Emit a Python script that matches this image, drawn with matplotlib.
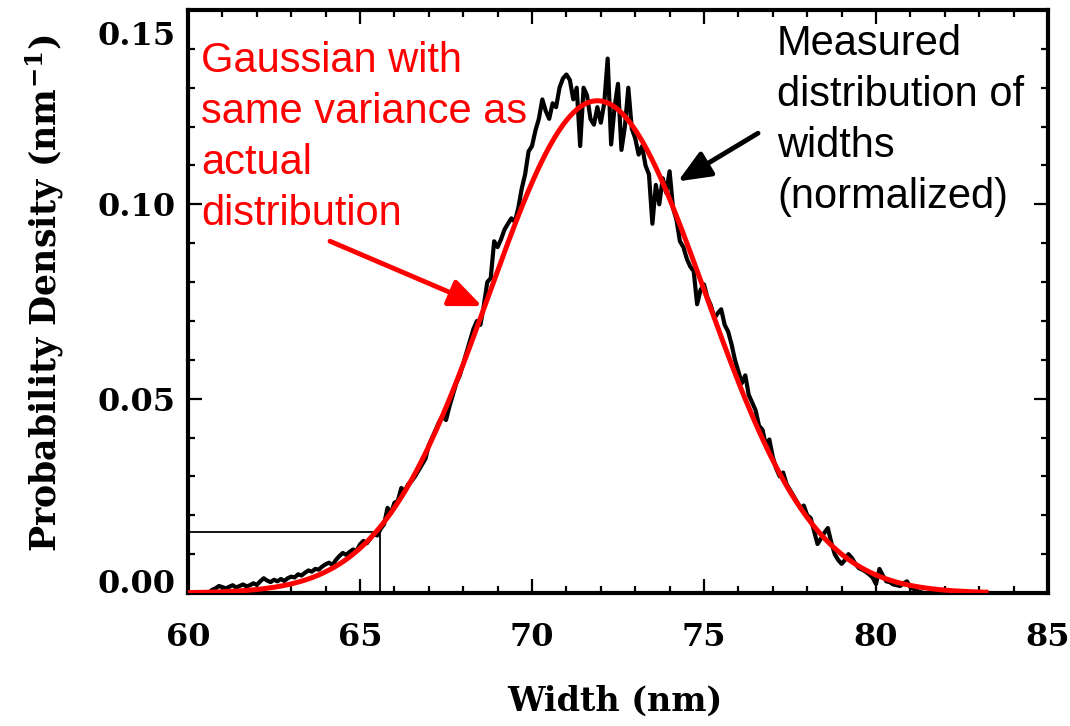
import numpy as np
import matplotlib
matplotlib.use("Agg")
import matplotlib.pyplot as plt
from matplotlib.ticker import MultipleLocator
import matplotlib.transforms as mtransforms

# ---------------- data ----------------
width_start = 60.6
width_step = 0.1
measured_density = [
    0.0000, 0.0008, 0.0012, 0.0018, 0.0015,
    0.0012, 0.0016, 0.0020, 0.0014, 0.0018, 0.0022, 0.0017, 0.0020, 0.0025, 0.0021,
    0.0030, 0.0038, 0.0032, 0.0028, 0.0034, 0.0030, 0.0036, 0.0031, 0.0038, 0.0042,
    0.0040, 0.0048, 0.0045, 0.0052, 0.0058, 0.0055, 0.0062, 0.0060, 0.0068, 0.0074,
    0.0078, 0.0072, 0.0085, 0.0095, 0.0103, 0.0098, 0.0106, 0.0112, 0.0108, 0.0125,
    0.0134, 0.0128, 0.0140, 0.0152, 0.0148, 0.0165, 0.0177, 0.0219, 0.0205, 0.0232,
    0.0237, 0.0270, 0.0262, 0.0280, 0.0288, 0.0300, 0.0315, 0.0330, 0.0345, 0.0380,
    0.0400, 0.0420, 0.0440, 0.0455, 0.0445, 0.0480, 0.0510, 0.0540, 0.0560, 0.0590,
    0.0620, 0.0650, 0.0680, 0.0700, 0.0690, 0.0740, 0.0800, 0.0810, 0.0905, 0.0890,
    0.0910, 0.0935, 0.0950, 0.0964, 0.0955, 0.0990, 0.1040, 0.1077, 0.1136, 0.1150,
    0.1190, 0.1220, 0.1270, 0.1240, 0.1220, 0.1260, 0.1250, 0.1300, 0.1324, 0.1334,
    0.1320, 0.1270, 0.1300, 0.1150, 0.1300, 0.1280, 0.1220, 0.1205, 0.1250, 0.1210,
    0.1260, 0.1375, 0.1154, 0.1250, 0.1310, 0.1140, 0.1200, 0.1300, 0.1195, 0.1170,
    0.1128, 0.1150, 0.1100, 0.1077, 0.0950, 0.1050, 0.1000, 0.1067, 0.1030, 0.1085,
    0.0990, 0.0960, 0.0905, 0.0890, 0.0860, 0.0840, 0.0828, 0.0743, 0.0780, 0.0794,
    0.0760, 0.0740, 0.0707, 0.0720, 0.0730, 0.0690, 0.0673, 0.0640, 0.0600, 0.0570,
    0.0540, 0.0560, 0.0510, 0.0490, 0.0470, 0.0430, 0.0420, 0.0380, 0.0395, 0.0350,
    0.0320, 0.0300, 0.0310, 0.0280, 0.0265, 0.0250, 0.0235, 0.0219, 0.0225, 0.0200,
    0.0193, 0.0160, 0.0126, 0.0140, 0.0155, 0.0167, 0.0130, 0.0100, 0.0085, 0.0075,
    0.0085, 0.0100, 0.0090, 0.0075, 0.0064, 0.0060, 0.0055, 0.0048, 0.0040, 0.0023,
    0.0062, 0.0045, 0.0030, 0.0028, 0.0022, 0.0020, 0.0018, 0.0025, 0.0030, 0.0015,
    0.0010, 0.0005, 0.0002, 0.0000,
]

gauss_mean = 71.9
gauss_sigma = 3.15
gauss_x_min = 60.0
gauss_x_max = 83.2

guide_x = 65.58
guide_y = 0.0158

x_ticks = [60, 65, 70, 75, 80, 85]
y_ticks = [0.00, 0.05, 0.10, 0.15]
y_tick_labels = ["0.00", "0.05", "0.10", "0.15"]

red_lines = ["Gaussian with", "same variance as", "actual", "distribution"]
black_lines = ["Measured", "distribution of", "widths", "(normalized)"]

# ---------------- figure ----------------
plt.rcParams["mathtext.fontset"] = "dejavuserif"
fig = plt.figure(figsize=(10.7, 7.26), dpi=100)
ax = fig.add_axes([188 / 1070, 1 - 593 / 726, 860 / 1070, 583 / 726])

w = width_start + width_step * np.arange(len(measured_density))
ax.plot(w, measured_density, color="black", lw=3.0, solid_joinstyle="round", zorder=2)

gx = np.linspace(gauss_x_min, gauss_x_max, 600)
gy = np.exp(-0.5 * ((gx - gauss_mean) / gauss_sigma) ** 2) / (gauss_sigma * np.sqrt(2 * np.pi))
ax.plot(gx, gy, color="#ff0000", lw=3.6, zorder=3)

ax.plot([60, guide_x, guide_x], [guide_y, guide_y, 0], color="black", lw=1.3, zorder=1)

ax.set_xlim(60, 85)
ax.set_ylim(0, 0.15)
ax.set_xticks(x_ticks)
ax.set_yticks(y_ticks)
ax.set_yticklabels(y_tick_labels)
ax.xaxis.set_minor_locator(MultipleLocator(1))
ax.yaxis.set_minor_locator(MultipleLocator(0.01))

ax.tick_params(which="both", direction="in", top=True, right=True, width=1.6)
ax.tick_params(which="major", length=10)
ax.tick_params(which="minor", length=5)
ax.tick_params(axis="x", which="major", pad=21)
ax.tick_params(axis="y", which="major", pad=9)
for lab in ax.get_xticklabels() + ax.get_yticklabels():
    lab.set_fontfamily("DejaVu Serif")
    lab.set_fontweight("bold")
    lab.set_fontsize(23)
for sp in ax.spines.values():
    sp.set_linewidth(3.0)

# shift the end labels of the y axis as in the reference
yt = ax.yaxis.get_major_ticks()
yt[0].label1.set_transform(yt[0].label1.get_transform() +
                           mtransforms.ScaledTranslation(0, 12 / 100, fig.dpi_scale_trans))
yt[-1].label1.set_transform(yt[-1].label1.get_transform() +
                            mtransforms.ScaledTranslation(0, -23 / 100, fig.dpi_scale_trans))

ax.set_xlabel("Width (nm)", fontfamily="DejaVu Serif", fontweight="bold", fontsize=24)
ax.xaxis.label.set_va("center")
ax.xaxis.set_label_coords(0.4965, -0.1856)
ax.set_ylabel(r"Probability Density (nm$^{\mathbf{-1}}$)", fontfamily="DejaVu Serif",
              fontweight="bold", fontsize=25, va="center", ha="center")
ax.yaxis.set_label_coords(-0.1663, 0.515)

# annotation texts, one line each, baselines as in the reference
ann_font = dict(family="Liberation Sans", size=30)
line_step = 51 / 3888.0
for i, line in enumerate(red_lines):
    ax.text(60.38, 0.1340 - i * line_step, line, color="#ff0000", va="baseline",
            ha="left", fontdict=ann_font, zorder=5)
for i, line in enumerate(black_lines):
    ax.text(77.12, 0.1384 - i * line_step, line, color="black", va="baseline",
            ha="left", fontdict=ann_font, zorder=5)

ax.annotate("", xy=(68.55, 0.0738), xytext=(64.13, 0.0905),
            arrowprops=dict(arrowstyle="-|>,head_length=0.9,head_width=0.38",
                            mutation_scale=22, lw=3.5, color="#ff0000",
                            shrinkA=0, shrinkB=0), zorder=6)
ax.annotate("", xy=(74.24, 0.1059), xytext=(76.57, 0.1183),
            arrowprops=dict(arrowstyle="-|>,head_length=0.9,head_width=0.38",
                            mutation_scale=22, lw=3.5, color="black",
                            shrinkA=0, shrinkB=0), zorder=6)

fig.savefig("out.png", dpi=100)
